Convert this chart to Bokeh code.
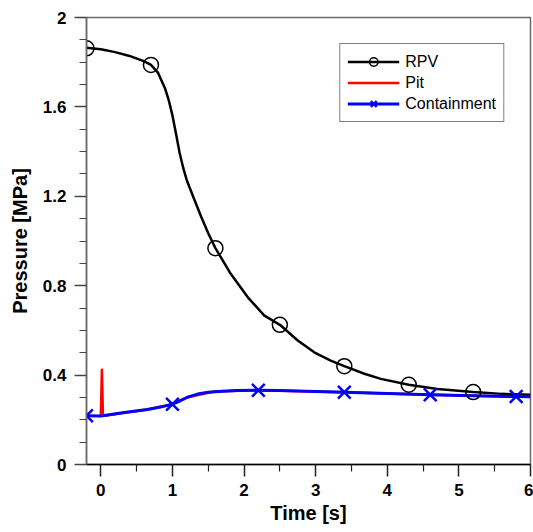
from bokeh.plotting import figure
from bokeh.models import Range1d, FixedTicker, Legend, LegendItem
from bokeh.embed import file_html
from bokeh.resources import INLINE

# ---------------- data ----------------
rpv_t = [-0.2, 0.0, 0.2, 0.4, 0.6, 0.7, 0.8, 0.9, 0.95, 1.0, 1.05, 1.1, 1.15,
         1.2, 1.3, 1.4, 1.5, 1.6, 1.814, 2.05, 2.28, 2.5, 2.75, 2.98, 3.21, 3.4,
         3.68, 3.91, 4.3, 4.7, 5.2, 5.6, 6.0]
rpv_p = [1.865, 1.858, 1.845, 1.828, 1.805, 1.788, 1.752, 1.68, 1.628, 1.562, 1.48, 1.395, 1.328,
         1.272, 1.19, 1.11, 1.035, 0.968, 0.853, 0.749, 0.667, 0.625, 0.555, 0.502, 0.465, 0.44,
         0.406, 0.383, 0.357, 0.338, 0.324, 0.316, 0.312]
rpv_mark_t = [-0.2, 0.7, 1.6, 2.5, 3.4, 4.3, 5.2]
rpv_mark_p = [1.862, 1.788, 0.968, 0.625, 0.44, 0.357, 0.324]

pit_t = [0.0, 0.015, 0.03, 0.05, 0.65, 1.0, 1.21, 1.58, 2.2, 3.4, 4.6, 5.8, 6.0]
pit_p = [0.217, 0.424, 0.22, 0.218, 0.246, 0.27, 0.301, 0.327, 0.332, 0.323, 0.312, 0.304, 0.303]

cont_t = [-0.2, 0.0, 0.3, 0.65, 0.85, 1.0, 1.1, 1.21, 1.35, 1.5, 1.7, 1.9, 2.2, 2.5, 3.0, 3.4,
          4.0, 4.6, 5.2, 5.8, 6.0]
cont_p = [0.218, 0.217, 0.232, 0.246, 0.258, 0.27, 0.284, 0.301, 0.315, 0.323, 0.328, 0.331,
          0.332, 0.331, 0.327, 0.323, 0.318, 0.312, 0.308, 0.304, 0.303]
cont_mark_t = [-0.2, 1.0, 2.2, 3.4, 4.6, 5.8]
cont_mark_p = [0.218, 0.27, 0.332, 0.323, 0.312, 0.304]

x_ticks = [0, 1, 2, 3, 4, 5, 6]
x_minor = [0.5, 1.5, 2.5, 3.5, 4.5, 5.5]
y_ticks = [0, 0.4, 0.8, 1.2, 1.6, 2]
y_tick_labels = ["0", "0.4", "0.8", "1.2", "1.6", "2"]
y_minor = [0.1, 0.2, 0.3, 0.5, 0.6, 0.7, 0.9, 1.0, 1.1, 1.3, 1.4, 1.5, 1.7, 1.8, 1.9]

series_names = ["RPV", "Pit", "Containment"]
x_label = "Time [s]"
y_label = "Pressure [MPa]"

# ---------------- figure ----------------
FONT = "Liberation Sans"

p = figure(width=533, height=532, output_backend="svg", toolbar_location=None,
           x_range=Range1d(-0.2, 6), y_range=Range1d(0, 2),
           min_border_left=86, min_border_right=3, min_border_top=17, min_border_bottom=68)
p.background_fill_color = "white"
p.border_fill_color = "white"
p.xgrid.visible = False
p.ygrid.visible = False
p.outline_line_color = "#6a6a6a"
p.outline_line_width = 1.5

# axes
xa = p.xaxis[0]
xa.ticker = FixedTicker(ticks=x_ticks, minor_ticks=x_minor)
xa.axis_line_color = "black"
xa.axis_line_width = 1.5
xa.major_tick_line_color = "#222222"
xa.major_tick_line_width = 1.5
xa.minor_tick_line_color = "#222222"
xa.minor_tick_line_width = 1.2
xa.major_tick_in = 0
xa.major_tick_out = 12
xa.minor_tick_in = 0
xa.minor_tick_out = 7
xa.major_label_standoff = 7
xa.axis_label = x_label
xa.axis_label_standoff = 3

ya = p.yaxis[0]
ya.ticker = FixedTicker(ticks=y_ticks, minor_ticks=y_minor)
ya.major_label_overrides = {t: l for t, l in zip(y_ticks, y_tick_labels)}
ya.axis_line_color = "#6a6a6a"
ya.axis_line_width = 1.5
ya.major_tick_line_color = "#444444"
ya.major_tick_line_width = 1.5
ya.minor_tick_line_color = "#444444"
ya.minor_tick_line_width = 1.2
ya.major_tick_in = 0
ya.major_tick_out = 12
ya.minor_tick_in = 0
ya.minor_tick_out = 7
ya.major_label_standoff = 8
ya.axis_label = y_label
ya.axis_label_standoff = 9

for ax in (xa, ya):
    ax.major_label_text_font = FONT
    ax.major_label_text_font_style = "bold"
    ax.major_label_text_font_size = "17px"
    ax.major_label_text_color = "black"
    ax.axis_label_text_font = FONT
    ax.axis_label_text_font_style = "bold"
    ax.axis_label_text_font_size = "20px"
    ax.axis_label_text_color = "black"

# glyphs
rpv_line = p.line(rpv_t, rpv_p, line_color="black", line_width=2.5, line_join="round")
pit_line = p.line(pit_t, pit_p, line_color="#ff0000", line_width=2.5, line_join="round")
cont_line = p.line(cont_t, cont_p, line_color="#0000ff", line_width=3, line_join="round")
rpv_marks = p.scatter(rpv_mark_t, rpv_mark_p, marker="circle", size=15, fill_color=None,
                      line_color="black", line_width=1.5)
cont_marks = p.scatter(cont_mark_t, cont_mark_p, marker="x", size=18,
                       line_color="#0000ff", line_width=2.5)

legend = Legend(items=[
    LegendItem(label=series_names[0], renderers=[rpv_line, rpv_marks]),
    LegendItem(label=series_names[1], renderers=[pit_line]),
    LegendItem(label=series_names[2], renderers=[cont_line, cont_marks]),
], location="top_right")
legend.margin = 26
legend.padding = 7
legend.spacing = 0
legend.glyph_width = 52
legend.glyph_height = 21
legend.label_height = 21
legend.label_standoff = 6
legend.label_text_font = FONT
legend.label_text_font_size = "16px"
legend.label_text_color = "black"
legend.border_line_color = "black"
legend.border_line_width = 1
legend.background_fill_color = "white"
legend.background_fill_alpha = 1.0
p.add_layout(legend, "center")

open("out.html", "w").write(file_html(p, INLINE))
